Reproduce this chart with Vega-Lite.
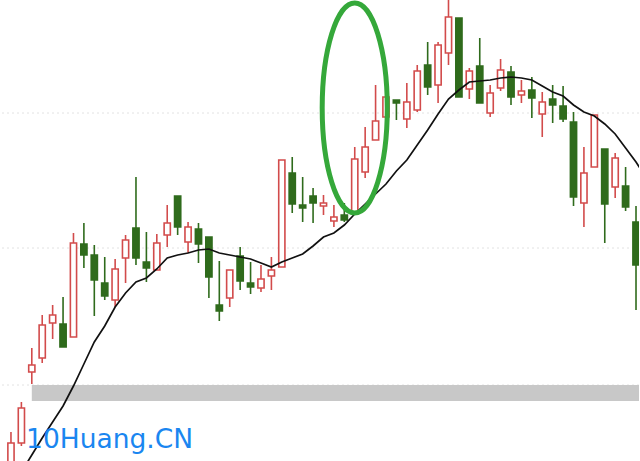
{
  "$schema": "https://vega.github.io/schema/vega-lite/v6.json",
  "autosize": {"type": "fit", "contains": "padding"},
  "width": 640,
  "height": 461,
  "padding": 0,
  "background": "#ffffff",
  "config": {"view": {"stroke": null}},
  "datasets": {
    "candles": [
      {"day": 0, "open": 25, "close": 57, "high": 68, "low": 22, "trend": "up"},
      {"day": 1, "open": 57, "close": 92, "high": 98, "low": 54, "trend": "up"},
      {"day": 2, "open": 128, "close": 135, "high": 152, "low": 116, "trend": "up"},
      {"day": 3, "open": 142, "close": 175, "high": 185, "low": 137, "trend": "up"},
      {"day": 4, "open": 177, "close": 185, "high": 195, "low": 161, "trend": "up"},
      {"day": 5, "open": 176, "close": 153, "high": 203, "low": 153, "trend": "down"},
      {"day": 6, "open": 163, "close": 257, "high": 267, "low": 163, "trend": "up"},
      {"day": 7, "open": 256, "close": 245, "high": 277, "low": 232, "trend": "down"},
      {"day": 8, "open": 245, "close": 220, "high": 255, "low": 184, "trend": "down"},
      {"day": 9, "open": 217, "close": 204, "high": 243, "low": 200, "trend": "down"},
      {"day": 10, "open": 200, "close": 231, "high": 241, "low": 193, "trend": "up"},
      {"day": 11, "open": 242, "close": 260, "high": 265, "low": 217, "trend": "up"},
      {"day": 12, "open": 272, "close": 242, "high": 323, "low": 235, "trend": "down"},
      {"day": 13, "open": 238, "close": 232, "high": 268, "low": 218, "trend": "down"},
      {"day": 14, "open": 230, "close": 257, "high": 266, "low": 230, "trend": "up"},
      {"day": 15, "open": 265, "close": 277, "high": 295, "low": 253, "trend": "up"},
      {"day": 16, "open": 304, "close": 273, "high": 304, "low": 265, "trend": "down"},
      {"day": 17, "open": 258, "close": 273, "high": 278, "low": 247, "trend": "up"},
      {"day": 18, "open": 271, "close": 256, "high": 277, "low": 237, "trend": "down"},
      {"day": 19, "open": 263, "close": 223, "high": 263, "low": 202, "trend": "down"},
      {"day": 20, "open": 195, "close": 189, "high": 239, "low": 179, "trend": "down"},
      {"day": 21, "open": 202, "close": 230, "high": 230, "low": 193, "trend": "up"},
      {"day": 22, "open": 244, "close": 219, "high": 253, "low": 210, "trend": "down"},
      {"day": 23, "open": 217, "close": 213, "high": 238, "low": 206, "trend": "down"},
      {"day": 24, "open": 212, "close": 221, "high": 235, "low": 208, "trend": "up"},
      {"day": 25, "open": 224, "close": 230, "high": 243, "low": 210, "trend": "up"},
      {"day": 26, "open": 233, "close": 340, "high": 340, "low": 233, "trend": "up"},
      {"day": 27, "open": 327, "close": 296, "high": 343, "low": 287, "trend": "down"},
      {"day": 28, "open": 295, "close": 292, "high": 323, "low": 278, "trend": "down"},
      {"day": 29, "open": 304, "close": 297, "high": 312, "low": 277, "trend": "down"},
      {"day": 30, "open": 294, "close": 297, "high": 305, "low": 285, "trend": "up"},
      {"day": 31, "open": 279, "close": 283, "high": 295, "low": 273, "trend": "up"},
      {"day": 32, "open": 285, "close": 280, "high": 297, "low": 278, "trend": "down"},
      {"day": 33, "open": 288, "close": 341, "high": 353, "low": 288, "trend": "up"},
      {"day": 34, "open": 328, "close": 353, "high": 373, "low": 322, "trend": "up"},
      {"day": 35, "open": 360, "close": 379, "high": 415, "low": 360, "trend": "up"},
      {"day": 36, "open": 383, "close": 403, "high": 405, "low": 380, "trend": "up"},
      {"day": 37, "open": 400, "close": 397, "high": 400, "low": 380, "trend": "down"},
      {"day": 38, "open": 381, "close": 398, "high": 417, "low": 372, "trend": "up"},
      {"day": 39, "open": 390, "close": 429, "high": 435, "low": 388, "trend": "up"},
      {"day": 40, "open": 435, "close": 413, "high": 458, "low": 405, "trend": "down"},
      {"day": 41, "open": 415, "close": 455, "high": 458, "low": 397, "trend": "up"},
      {"day": 42, "open": 447, "close": 483, "high": 505, "low": 435, "trend": "up"},
      {"day": 43, "open": 482, "close": 403, "high": 482, "low": 403, "trend": "down"},
      {"day": 44, "open": 411, "close": 429, "high": 432, "low": 401, "trend": "up"},
      {"day": 45, "open": 434, "close": 397, "high": 462, "low": 397, "trend": "down"},
      {"day": 46, "open": 387, "close": 407, "high": 415, "low": 383, "trend": "up"},
      {"day": 47, "open": 412, "close": 430, "high": 441, "low": 409, "trend": "up"},
      {"day": 48, "open": 428, "close": 403, "high": 434, "low": 395, "trend": "down"},
      {"day": 49, "open": 405, "close": 409, "high": 420, "low": 397, "trend": "up"},
      {"day": 50, "open": 410, "close": 402, "high": 423, "low": 382, "trend": "down"},
      {"day": 51, "open": 386, "close": 398, "high": 408, "low": 363, "trend": "up"},
      {"day": 52, "open": 401, "close": 395, "high": 415, "low": 377, "trend": "down"},
      {"day": 53, "open": 394, "close": 381, "high": 414, "low": 378, "trend": "down"},
      {"day": 54, "open": 378, "close": 303, "high": 388, "low": 294, "trend": "down"},
      {"day": 55, "open": 297, "close": 327, "high": 353, "low": 273, "trend": "up"},
      {"day": 56, "open": 333, "close": 385, "high": 385, "low": 333, "trend": "up"},
      {"day": 57, "open": 351, "close": 296, "high": 351, "low": 257, "trend": "down"},
      {"day": 58, "open": 313, "close": 342, "high": 347, "low": 302, "trend": "up"},
      {"day": 59, "open": 314, "close": 293, "high": 333, "low": 289, "trend": "down"},
      {"day": 60, "open": 278, "close": 235, "high": 294, "low": 190, "trend": "down"}
    ],
    "movingAverage": [
      {"day": 1, "ma": 28}, {"day": 2, "ma": 45}, {"day": 3, "ma": 62}, {"day": 4, "ma": 78},
      {"day": 5, "ma": 94}, {"day": 6, "ma": 114}, {"day": 7, "ma": 136}, {"day": 8, "ma": 158},
      {"day": 9, "ma": 174}, {"day": 10, "ma": 193}, {"day": 11, "ma": 207}, {"day": 12, "ma": 218},
      {"day": 13, "ma": 222}, {"day": 14, "ma": 231}, {"day": 15, "ma": 242}, {"day": 16, "ma": 245},
      {"day": 17, "ma": 247}, {"day": 18, "ma": 250}, {"day": 19, "ma": 251}, {"day": 20, "ma": 247},
      {"day": 21, "ma": 245}, {"day": 22, "ma": 243}, {"day": 23, "ma": 241}, {"day": 24, "ma": 237},
      {"day": 25, "ma": 233}, {"day": 26, "ma": 238}, {"day": 27, "ma": 242}, {"day": 28, "ma": 246},
      {"day": 29, "ma": 254}, {"day": 30, "ma": 263}, {"day": 31, "ma": 267}, {"day": 32, "ma": 275},
      {"day": 33, "ma": 286}, {"day": 34, "ma": 296}, {"day": 35, "ma": 306}, {"day": 36, "ma": 316},
      {"day": 37, "ma": 329}, {"day": 38, "ma": 340}, {"day": 39, "ma": 355}, {"day": 40, "ma": 370},
      {"day": 41, "ma": 386}, {"day": 42, "ma": 401}, {"day": 43, "ma": 410}, {"day": 44, "ma": 418},
      {"day": 45, "ma": 419}, {"day": 46, "ma": 420}, {"day": 47, "ma": 422}, {"day": 48, "ma": 423},
      {"day": 49, "ma": 422}, {"day": 50, "ma": 420}, {"day": 51, "ma": 414}, {"day": 52, "ma": 408},
      {"day": 53, "ma": 404}, {"day": 54, "ma": 395}, {"day": 55, "ma": 388}, {"day": 56, "ma": 384},
      {"day": 57, "ma": 376}, {"day": 58, "ma": 366}, {"day": 59, "ma": 352}, {"day": 60, "ma": 338},
      {"day": 61, "ma": 322}
    ],
    "gridLevels": [{"level": 115}, {"level": 252}, {"level": 387}],
    "supportZone": [{"fromDay": 2, "toDay": 62, "bottom": 99, "top": 115}],
    "highlight": [{"day": 33, "price": 392}],
    "watermark": [{"label": "10Huang.CN", "day": 1.45, "price": 52}]
  },
  "encoding": {
    "x": {"type": "quantitative", "scale": {"domain": [-0.957, 60.287], "nice": false, "zero": false, "padding": 0}, "axis": null},
    "y": {"type": "quantitative", "scale": {"domain": [39, 500], "nice": false, "zero": false, "padding": 0}, "axis": null}
  },
  "layer": [
    {
      "data": {"name": "gridLevels"},
      "mark": {"type": "rule", "color": "#e2e2e2", "strokeWidth": 1, "strokeDash": [2, 3]},
      "encoding": {"y": {"field": "level", "type": "quantitative"}}
    },
    {
      "data": {"name": "supportZone"},
      "mark": {"type": "rect", "color": "#c8c8c8", "clip": true},
      "encoding": {
        "x": {"field": "fromDay", "type": "quantitative"},
        "x2": {"field": "toDay"},
        "y": {"field": "bottom", "type": "quantitative"},
        "y2": {"field": "top"}
      }
    },
    {
      "data": {"name": "candles"},
      "mark": {"type": "rule", "strokeWidth": 1.6, "clip": true},
      "encoding": {
        "x": {"field": "day", "type": "quantitative"},
        "y": {"field": "low", "type": "quantitative"},
        "y2": {"field": "high"},
        "color": {"field": "trend", "type": "nominal", "scale": {"domain": ["up", "down"], "range": ["#d24b4b", "#2f6b1c"]}, "legend": null}
      }
    },
    {
      "data": {"name": "candles"},
      "mark": {"type": "bar", "size": 6.2, "strokeWidth": 1.6, "clip": true, "opacity": 1},
      "encoding": {
        "x": {"field": "day", "type": "quantitative"},
        "y": {"field": "open", "type": "quantitative"},
        "y2": {"field": "close"},
        "fill": {"field": "trend", "type": "nominal", "scale": {"domain": ["up", "down"], "range": ["#ffffff", "#2f6b1c"]}, "legend": null},
        "stroke": {"field": "trend", "type": "nominal", "scale": {"domain": ["up", "down"], "range": ["#d24b4b", "#2f6b1c"]}, "legend": null}
      }
    },
    {
      "data": {"name": "movingAverage"},
      "mark": {"type": "line", "color": "#111111", "strokeWidth": 1.7, "clip": true},
      "encoding": {
        "x": {"field": "day", "type": "quantitative"},
        "y": {"field": "ma", "type": "quantitative"}
      }
    },
    {
      "data": {"name": "highlight"},
      "mark": {
        "type": "point",
        "shape": "M-0.31,0 A0.31,1 0 1,1 0.31,0 A0.31,1 0 1,1 -0.31,0 Z",
        "size": 44100,
        "filled": false,
        "stroke": "#35a83a",
        "strokeWidth": 5,
        "opacity": 1,
        "clip": true
      },
      "encoding": {
        "x": {"field": "day", "type": "quantitative"},
        "y": {"field": "price", "type": "quantitative"}
      }
    },
    {
      "data": {"name": "watermark"},
      "mark": {"type": "text", "align": "left", "baseline": "alphabetic", "font": "DejaVu Sans", "fontSize": 26.5, "color": "#1a86f0"},
      "encoding": {
        "x": {"field": "day", "type": "quantitative"},
        "y": {"field": "price", "type": "quantitative"},
        "text": {"field": "label"}
      }
    }
  ]
}
